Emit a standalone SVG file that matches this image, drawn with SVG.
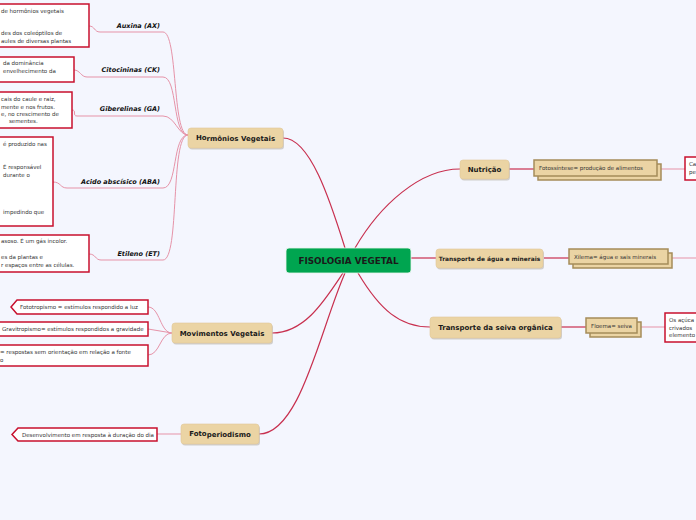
<svg xmlns="http://www.w3.org/2000/svg" width="696" height="520" viewBox="0 0 696 520">
<style>
.bg{fill:#f4f6fe}
.main{stroke:#c8304f;stroke-width:1.2;fill:none}
.sub{stroke:#e693a8;stroke-width:1;fill:none}
.topic{fill:#ebd4a4;stroke:#e0c898;stroke-width:0.6}
.shadow{fill:#b8b4ac;opacity:0.6}
.tt{font-family:"DejaVu Sans",Verdana,sans-serif;font-weight:bold;font-size:7px;fill:#1a1a1a}
.lab{font-family:"DejaVu Sans",Verdana,sans-serif;font-weight:bold;font-style:italic;font-size:6.5px;fill:#111}
.box{fill:#ffffff;stroke:#c8102e;stroke-width:1.5}
.bt{font-family:"DejaVu Sans",Verdana,sans-serif;font-size:5.5px;fill:#333}
.sum{fill:#ebd4a4;stroke:#a58c5a;stroke-width:1.5}
</style>
<rect class="bg" x="0" y="0" width="696" height="520"/>

<g id="connectors">
<path class="main" d="M345,248 C330,200 310,138 283,138"/>
<path class="main" d="M355,248 C380,205 420,169 460,169"/>
<path class="main" d="M411,258 L436,258"/>
<path class="main" d="M358,273 C380,310 400,327 430,327"/>
<path class="main" d="M343,273 C325,300 305,333 272,333"/>
<path class="main" d="M345,273 C320,330 300,434 259,434"/>
<path class="main" d="M509,169 L534,169"/>
<path class="main" d="M544,258 L569,258"/>
<path class="main" d="M561,327 L586,327"/>
<path class="sub" d="M661,169 L685,169"/>
<path class="sub" d="M672,258 L696,258"/>
<path class="sub" d="M641,327 L665,327"/>
<path class="sub" d="M188,135 C172,135 178,32 163,32 L100,32 C94,32 95,26 89,26"/>
<path class="sub" d="M188,135 C172,135 178,77 163,77 L87,77 C81,77 80,70 74,70"/>
<path class="sub" d="M188,135 C178,135 175,116 163,116 L77,116 C72,116 77,110 72,110"/>
<path class="sub" d="M188,135 C172,135 178,188 163,188 L67,188 C60,188 61,182 53,182"/>
<path class="sub" d="M188,135 C170,135 180,260 163,260 L101,260 C95,260 96,254 89,254"/>
<path class="sub" d="M172,333 C160,333 160,307 148,307"/>
<path class="sub" d="M172,333 L148,329"/>
<path class="sub" d="M172,333 C160,333 160,355 148,355"/>
<path class="sub" d="M157,434 L181,434"/>
</g>

<g id="central">
<rect x="286" y="248" width="125" height="25" rx="3" fill="#00a550" stroke="#e8f5ec" stroke-width="0.8"/>
<text class="tt" x="348.5" y="264" text-anchor="middle" style="font-size:8.8px">FISOLOGIA VEGETAL</text>
</g>

<g id="hormonios">
<rect class="shadow" x="189" y="129.5" width="95" height="20" rx="3"/>
<rect class="topic" x="188" y="128" width="95" height="20" rx="3"/>
<text class="tt" x="235.5" y="141" text-anchor="middle"><tspan dy="-1">Ho</tspan><tspan dy="1">rmônios Vegetais</tspan></text>
</g>

<g id="auxina">
<text class="lab" x="160" y="28" text-anchor="end">Auxina (AX)</text>
<rect class="box" x="-10" y="4" width="99" height="43"/>
<text class="bt" x="1" y="13">de hormônios vegetais</text>
<text class="bt" x="1" y="35">des dos coleóptilos de</text>
<text class="bt" x="1" y="43">aules de diversas plantas</text>
</g>

<g id="citocininas">
<text class="lab" x="160" y="72" text-anchor="end">Citocininas (CK)</text>
<rect class="box" x="-10" y="57" width="84" height="25"/>
<text class="bt" x="3" y="65">da dominância</text>
<text class="bt" x="3" y="73">envelhecimento da</text>
</g>

<g id="giberelinas">
<text class="lab" x="160" y="111" text-anchor="end">Giberelinas (GA)</text>
<rect class="box" x="-10" y="92" width="82" height="36"/>
<text class="bt" x="1" y="101">cais do caule e raiz,</text>
<text class="bt" x="1" y="109">mente e nos frutos.</text>
<text class="bt" x="1" y="116">e, no crescimento de</text>
<text class="bt" x="9" y="123">sementes.</text>
</g>

<g id="aba">
<text class="lab" x="160" y="184" text-anchor="end">Acido abscísico (ABA)</text>
<rect class="box" x="-10" y="137" width="63" height="89"/>
<text class="bt" x="3" y="146">é produzido nas</text>
<text class="bt" x="3" y="169">É responsável</text>
<text class="bt" x="3" y="177">durante o</text>
<text class="bt" x="3" y="214">impedindo que</text>
</g>

<g id="etileno">
<text class="lab" x="160" y="256" text-anchor="end">Etileno (ET)</text>
<rect class="box" x="-10" y="235" width="99" height="37"/>
<text class="bt" x="1" y="243">asoso. É um gás incolor.</text>
<text class="bt" x="1" y="259">es da plantas e</text>
<text class="bt" x="1" y="267">r espaços entre as células.</text>
</g>

<g id="movimentos">
<rect class="shadow" x="173" y="324.5" width="100" height="20" rx="3"/>
<rect class="topic" x="172" y="323" width="100" height="20" rx="3"/>
<text class="tt" x="222" y="336" text-anchor="middle">Movimentos Vegetais</text>
</g>

<g id="fototropismo">
<path class="box" d="M17,300 L148,300 L148,314 L17,314 L11,307 Z"/>
<text class="bt" x="20" y="309">Fototropismo = estímulos respondido a luz</text>
</g>

<g id="gravitropismo">
<rect class="box" x="-10" y="322" width="158" height="14"/>
<text class="bt" x="2" y="331">Gravitropismo= estímulos respondidos a gravidade</text>
</g>

<g id="nastismo">
<rect class="box" x="-10" y="345" width="158" height="21"/>
<text class="bt" x="0" y="354">= respostas sem orientação em relação a fonte</text>
<text class="bt" x="0" y="362">o</text>
</g>

<g id="fotoperiodismo">
<rect class="shadow" x="182" y="425.5" width="78" height="20" rx="3"/>
<rect class="topic" x="181" y="424" width="78" height="20" rx="3"/>
<text class="tt" x="220" y="437" text-anchor="middle"><tspan dy="-1">Foto</tspan><tspan dy="1">periodismo</tspan></text>
</g>

<g id="desenvolvimento">
<path class="box" d="M18,428 L157,428 L157,441 L18,441 L12,434.5 Z"/>
<text class="bt" x="22" y="437">Desenvolvimento em resposta à duração do dia</text>
</g>

<g id="nutricao">
<rect class="shadow" x="461" y="161.5" width="49" height="19" rx="3"/>
<rect class="topic" x="460" y="160" width="49" height="19" rx="3"/>
<text class="tt" x="484.5" y="172" text-anchor="middle">Nutrição</text>
</g>

<g id="fotossintese">
<rect class="sum" x="538" y="164" width="123" height="16"/>
<rect class="sum" x="534" y="160" width="123" height="16"/>
<text class="bt" x="539" y="170">Fotossíntese= produção de alimentos</text>
</g>

<g id="nutricao-detalhe">
<rect class="box" x="685" y="157" width="20" height="23"/>
<text class="bt" x="689" y="166">Ca</text>
<text class="bt" x="689" y="174">pe</text>
</g>

<g id="transporte-agua">
<rect class="shadow" x="437" y="250.5" width="107" height="19" rx="3"/>
<rect class="topic" x="436" y="249" width="107" height="19" rx="3"/>
<text class="tt" x="489.5" y="261" text-anchor="middle" style="font-size:5.9px">Transporte de água e minerais</text>
</g>

<g id="xilema">
<rect class="sum" x="573" y="253" width="99" height="15"/>
<rect class="sum" x="569" y="249" width="99" height="15"/>
<text class="bt" x="574" y="259">Xilema= água e sais minerais</text>
</g>

<g id="transporte-seiva">
<rect class="shadow" x="431" y="318.5" width="131" height="21" rx="3"/>
<rect class="topic" x="430" y="317" width="131" height="21" rx="3"/>
<text class="tt" x="495.5" y="330" text-anchor="middle">Transporte da seiva orgânica</text>
</g>

<g id="floema">
<rect class="sum" x="590" y="322" width="51" height="15"/>
<rect class="sum" x="586" y="318" width="51" height="15"/>
<text class="bt" x="591" y="328">Floema= seiva</text>
</g>

<g id="floema-detalhe">
<rect class="box" x="665" y="313" width="40" height="29"/>
<text class="bt" x="669" y="322">Os açúca</text>
<text class="bt" x="669" y="330">crivados</text>
<text class="bt" x="669" y="337">elemento</text>
</g>
</svg>
